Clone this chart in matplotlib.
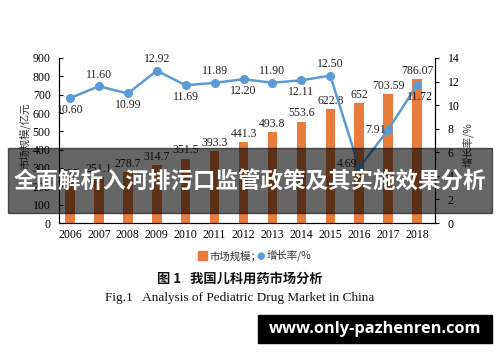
import matplotlib
matplotlib.use("Agg")
import matplotlib.pyplot as plt
from matplotlib.patches import Rectangle

years = ["2006", "2007", "2008", "2009", "2010", "2011", "2012",
         "2013", "2014", "2015", "2016", "2017", "2018"]
market = [225, 251.1, 278.7, 314.7, 351.5, 393.3, 441.3,
          493.8, 553.6, 622.8, 652, 703.59, 786.07]
market_labels = ["225", "251.1", "278.7", "314.7", "351.5", "393.3", "441.3",
                 "493.8", "553.6", "622.8", "652", "703.59", "786.07"]
growth = [10.60, 11.60, 10.99, 12.92, 11.69, 11.89, 12.20,
          11.90, 12.11, 12.50, 4.69, 7.91, 11.72]
growth_labels = ["10.60", "11.60", "10.99", "12.92", "11.69", "11.89", "12.20",
                 "11.90", "12.11", "12.50", "4.69", "7.91", "11.72"]

SERIF = ["Liberation Serif", "DejaVu Serif"]
CJK = ["Noto Sans CJK SC", "DejaVu Sans"]
BAR_C = "#E97B3C"
LINE_C = "#5B9BD5"

fig = plt.figure(figsize=(5, 3.62), dpi=100)
W, H = 500, 362
ax = fig.add_axes([59 / W, 1 - 223 / H, (435 - 59) / W, (223 - 58) / H])
ax2 = ax.twinx()

x = list(range(len(years)))
ax.bar(x, market, width=0.33, color=BAR_C, zorder=2)
ax.set_xlim(-0.38, 12.62)
ax.set_ylim(0, 900)
ax.set_yticks(range(0, 901, 100))
ax.set_xticks(x)
ax.set_xticklabels(years, fontfamily=SERIF, fontsize=8.5)
ax.tick_params(axis="x", length=0, pad=4)
ax.tick_params(axis="y", direction="in", length=3, labelsize=8.5, pad=6)
for lab in ax.get_yticklabels():
    lab.set_fontfamily(SERIF)
ax.spines["top"].set_visible(False)

for xi, v, s in zip(x, market, market_labels):
    ax.text(xi, v + 12, s, ha="center", va="bottom", fontsize=8.5,
            fontfamily=SERIF, color="#222222")

ax2.plot(x, growth, color=LINE_C, lw=1.8, marker="o", markersize=5.5, zorder=3)
ax2.set_ylim(0, 14)
ax2.set_yticks(range(0, 15, 2))
ax2.tick_params(axis="y", direction="out", length=3, labelsize=8.5, pad=6)
for lab in ax2.get_yticklabels():
    lab.set_fontfamily(SERIF)
ax2.spines["top"].set_visible(False)

offsets = {0: (0, -1.0), 1: (0, 1.0), 2: (0, -1.0), 3: (0, 1.0), 4: (0, -1.0),
           5: (0, 1.0), 6: (0, -1.0), 7: (0, 1.0), 8: (0, -1.0), 9: (0, 1.0),
           10: (-0.42, 0.35), 11: (-0.45, 0.0), 12: (0.1, -1.0)}
for xi, v, s in zip(x, growth, growth_labels):
    dx, dy = offsets[xi]
    ax2.text(xi + dx, v + dy, s, ha="center", va="center", fontsize=8.5,
             fontfamily=SERIF, color="#222222", zorder=4)

fig.text(25 / W, 1 - 136 / H, "市场规模/亿元", rotation=90, ha="center", va="center",
         fontsize=7.5, fontfamily=CJK, color="#333333")
fig.text(468 / W, 1 - 145 / H, "增长率/%", rotation=90, ha="center", va="center",
         fontsize=7.5, fontfamily=CJK, color="#333333")

# legend
fig.patches.append(Rectangle((198 / W, 1 - 260 / H), 9 / W, 9 / H,
                             transform=fig.transFigure, color=BAR_C))
fig.text(210 / W, 1 - 255.5 / H, "市场规模；", ha="left", va="center",
         fontsize=7.5, fontfamily=CJK, color="#333333")
fig.text(261 / W, 1 - 255.5 / H, "●", ha="center", va="center",
         fontsize=7, fontfamily=["DejaVu Sans"], color=LINE_C)
fig.text(267 / W, 1 - 255.5 / H, "增长率/%", ha="left", va="center",
         fontsize=7.5, fontfamily=CJK, color="#333333")

fig.text(240 / W, 1 - 279 / H, "图 1   我国儿科用药市场分析", ha="center", va="center",
         fontsize=9.5, fontweight="bold", fontfamily=CJK, color="#111111")
fig.text(240 / W, 1 - 298 / H, "Fig.1   Analysis of Pediatric Drug Market in China",
         ha="center", va="center", fontsize=9.5, fontfamily=SERIF, color="#111111")

# banner overlay
fig.patches.append(Rectangle((8 / W, 1 - 213 / H), 484 / W, 65 / H,
                             transform=fig.transFigure, color="black", alpha=0.6,
                             zorder=10))
fig.text(250 / W, 1 - 181 / H, "全面解析入河排污口监管政策及其实施效果分析",
         ha="center", va="center", fontsize=16.2, fontweight="bold",
         fontfamily=CJK, color="white", zorder=11)

# watermark
fig.patches.append(Rectangle((258 / W, 1 - 343 / H), 234 / W, 28 / H,
                             transform=fig.transFigure, color="black", zorder=10))
fig.text(375 / W, 1 - 329 / H, "www.only-pazhenren.com", ha="center", va="center",
         fontsize=11.8, fontweight="bold", fontfamily=["Open Sans", "DejaVu Sans"],
         color="white", zorder=11)

fig.savefig("out.png", dpi=100)
